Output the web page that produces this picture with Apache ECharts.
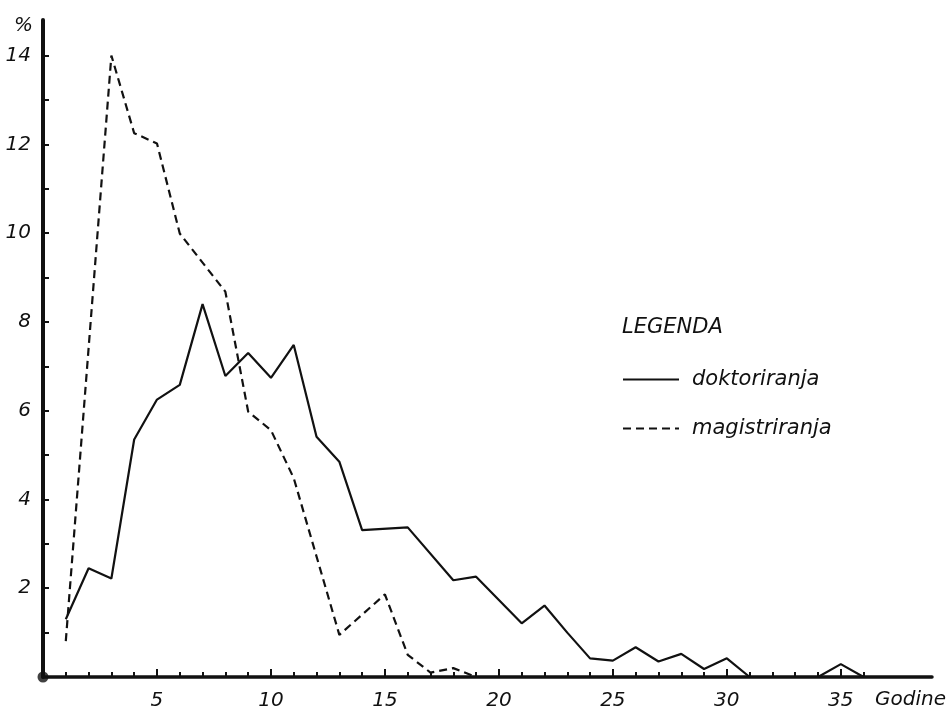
<!DOCTYPE html>
<html><head><meta charset="utf-8">
<script src="https://cdn.jsdelivr.net/npm/echarts@6/dist/echarts.min.js"></script>
<style>html,body{margin:0;padding:0;background:#fff}#c{width:949px;height:711px}</style>
</head><body><div id="c"></div>
<script>
// Years (Godine) and percentage values
const doktoriranja = [
  [1, 1.3], [2, 2.45], [3, 2.22], [4, 5.35], [5, 6.25], [6, 6.58], [7, 8.4],
  [8, 6.78], [9, 7.3], [10, 6.74], [11, 7.48], [12, 5.41], [13, 4.85],
  [14, 3.31], [16, 3.37], [18, 2.18], [19, 2.26], [21, 1.21], [22, 1.61],
  [23, 1.0], [24, 0.42], [25, 0.37], [26, 0.67], [27, 0.35], [28, 0.52],
  [29, 0.18], [30, 0.42], [31, 0], [34, 0], [35, 0.29], [36, 0]
];
const magistriranja = [
  [1, 0.81], [3, 14.0], [4, 12.25], [5, 12.02], [6, 9.99], [8, 8.68],
  [9, 5.98], [10, 5.56], [11, 4.48], [13, 0.95], [15, 1.86], [16, 0.5],
  [17, 0.1], [18, 0.2], [19, 0]
];
const origin = [[0, 0]];
const xLabelValues = [5, 10, 15, 20, 25, 30, 35];
const xTickValues = [1,2,3,4,5,6,7,8,9,10,11,12,13,14,15,16,17,18,19,20,21,22,23,24,25,26,27,28,29,30,31,32,33,34,35,36];
const yLabelValues = [2, 4, 6, 8, 10, 12, 14];
const yTickValues = [1,2,3,4,5,6,7,8,9,10,11,12,13,14];
const seriesNames = ['doktoriranja', 'magistriranja'];

const FONT = 'DejaVu Sans';
const INK = '#111';
const chart = echarts.init(document.getElementById('c'), null, {renderer: 'canvas'});
chart.setOption({
  backgroundColor: '#fff',
  animation: false,
  title: {
    text: 'LEGENDA', left: 617, top: 312,
    textStyle: {fontFamily: FONT, fontStyle: 'italic', fontWeight: 'normal', fontSize: 21, color: INK}
  },
  legend: {
    data: seriesNames, orient: 'vertical', left: 617, top: 364,
    itemWidth: 56, itemHeight: 14, itemGap: 28,
    itemStyle: {opacity: 0},
    textStyle: {fontFamily: FONT, fontStyle: 'italic', fontSize: 21, color: INK, padding: [0, 0, 0, 8]}
  },
  grid: {left: 43, right: 16, top: 20, bottom: 34, containLabel: false},
  xAxis: [{
    type: 'value', min: 0, max: 39, position: 'bottom',
    name: 'Godine', nameLocation: 'end', nameGap: 14,
    nameTextStyle: {fontFamily: FONT, fontStyle: 'italic', fontSize: 20, color: INK, align: 'right', verticalAlign: 'top', padding: [13, 0, 0, 0]},
    axisLine: {show: true, lineStyle: {color: INK, width: 3.5}},
    axisTick: {show: true, inside: true, length: 8, customValues: xLabelValues, lineStyle: {color: INK, width: 2}},
    axisLabel: {customValues: xLabelValues, margin: 14, fontFamily: FONT, fontStyle: 'italic', fontSize: 20, color: INK},
    splitLine: {show: false}
  }, {
    type: 'value', min: 0, max: 39, position: 'bottom',
    axisLine: {show: false},
    axisTick: {show: true, inside: true, length: 5, customValues: xTickValues, lineStyle: {color: INK, width: 2}},
    axisLabel: {show: false},
    splitLine: {show: false}
  }],
  yAxis: {
    type: 'value', min: 0, max: 14.8,
    name: '%', nameLocation: 'end', nameGap: -6,
    nameTextStyle: {fontFamily: FONT, fontStyle: 'italic', fontSize: 20, color: INK, align: 'right', verticalAlign: 'middle', padding: [0, 10, 0, 0]},
    axisLine: {show: true, lineStyle: {color: INK, width: 4}},
    axisTick: {show: true, inside: true, length: 6, customValues: yTickValues, lineStyle: {color: INK, width: 2}},
    axisLabel: {customValues: yLabelValues, margin: 12, fontFamily: FONT, fontStyle: 'italic', fontSize: 20, color: INK},
    splitLine: {show: false}
  },
  series: [{
    name: seriesNames[0], type: 'line', data: doktoriranja, symbol: 'none',
    lineStyle: {color: INK, width: 2.2, type: 'solid'}, itemStyle: {color: INK}
  }, {
    name: seriesNames[1], type: 'line', data: magistriranja, symbol: 'none',
    lineStyle: {color: INK, width: 2.2, type: [8, 5]}, itemStyle: {color: INK}
  }, {
    name: 'origin', type: 'scatter', data: origin, symbolSize: 11, clip: false, silent: true,
    itemStyle: {color: INK}, z: 5
  }]
});
</script>
</body></html>
